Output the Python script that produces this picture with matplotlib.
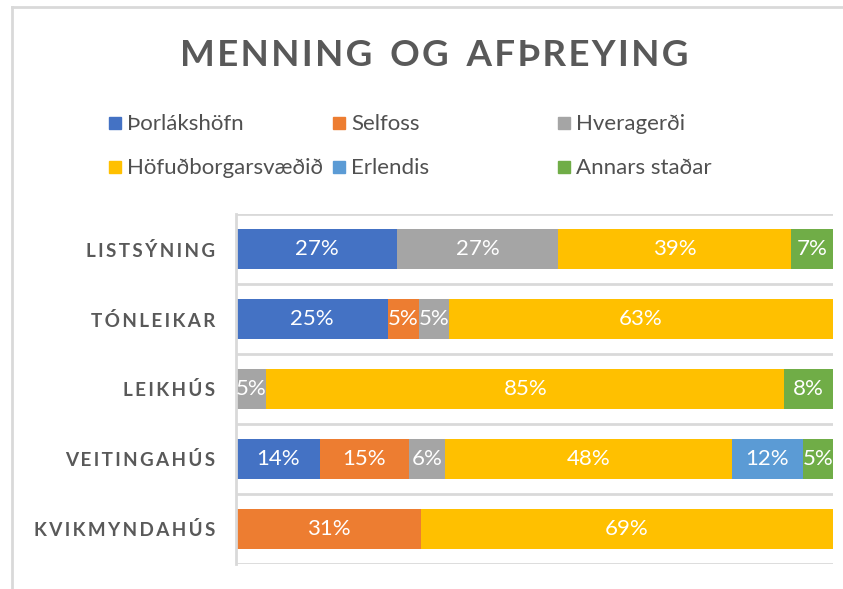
import matplotlib

matplotlib.use("Agg")
import matplotlib.pyplot as plt
import numpy as np
from matplotlib.lines import Line2D
from matplotlib.patches import Rectangle

plt.rcParams["font.family"] = ["Lato", "DejaVu Sans"]

# data (Excel 100% stacked bar, labels show the rounded shares)
categories = ["LISTSÝNING", "TÓNLEIKAR", "LEIKHÚS", "VEITINGAHÚS", "KVIKMYNDAHÚS"]
series_names = ["Þorlákshöfn", "Selfoss", "Hveragerði", "Höfuðborgarsvæðið", "Erlendis", "Annars staðar"]
thorlakshofn = [27, 25, 0, 14, 0]
selfoss = [0, 5, 0, 15, 31]
hveragerdi = [27, 5, 5, 6, 0]
hofudborgarsvaedid = [39, 63, 85, 48, 69]
erlendis = [0, 0, 0, 12, 0]
annars_stadar = [7, 0, 8, 5, 0]

colors = ["#4472C4", "#ED7D31", "#A5A5A5", "#FFC000", "#5B9BD5", "#70AD47"]
text_grey = "#595959"
line_grey = "#D9D9D9"

values = np.array([thorlakshofn, selfoss, hveragerdi, hofudborgarsvaedid, erlendis, annars_stadar], dtype=float)
shares = values / values.sum(axis=0) * 100

W, H = 843, 589
fig = plt.figure(figsize=(W / 100, H / 100), dpi=100)


def fx(px):
    return px / W


def fy(py):
    return 1 - py / H


# chart frame (only top and left edges are visible in the crop)
fig.add_artist(Line2D([fx(12), fx(12)], [fy(7), 0], color=line_grey, lw=2))
fig.add_artist(Line2D([fx(12), 1], [fy(7), fy(7)], color=line_grey, lw=2))

title = "  ".join("\u200a".join(w) for w in ["MENNING", "OG", "AFÞREYING"])
fig.text(fx(434), fy(56), title, ha="center", va="center", fontsize=26.5, fontweight="bold", color=text_grey)

# legend, laid out by hand like Excel does it
legend_pos = [(115, 122.5), (339, 122.5), (564, 122.5), (115, 166.5), (339, 166.5), (564, 166.5)]
for name, col, (lx, ly) in zip(series_names, colors, legend_pos):
    fig.add_artist(Rectangle((fx(lx - 6), fy(ly + 6)), 12 / W, 12 / H, color=col, transform=fig.transFigure))
    fig.text(fx(lx + 12), fy(ly + 1), name, ha="left", va="center", fontsize=16, color="#505050")

ax = fig.add_axes([fx(236), fy(564), fx(833) - fx(236), (564 - 214) / H])
y = np.arange(len(categories))
left = np.zeros(len(categories))
for i, col in enumerate(colors):
    ax.barh(y, shares[i], left=left, height=0.56, color=col, zorder=2)
    for j in range(len(categories)):
        if values[i, j] > 0:
            ax.text(left[j] + shares[i, j] / 2, y[j], f"{values[i, j]:.0f}%", ha="center", va="center",
                    color="white", fontsize=16, zorder=3)
    left += shares[i]

for b in np.arange(-0.5, len(categories), 1.0):
    ax.axhline(b, color=line_grey, lw=2, zorder=1)

ax.set_xlim(0, 100)
ax.set_ylim(len(categories) - 0.5, -0.5)
ax.set_xticks([])
ax.set_yticks(y)
ax.set_yticklabels(["\u2009".join(c) for c in categories], fontsize=13.6, fontweight="bold", color=text_grey)
ax.tick_params(axis="y", length=0, pad=15)
for s in ["top", "right", "bottom"]:
    ax.spines[s].set_visible(False)
ax.spines["left"].set_color(line_grey)
ax.spines["left"].set_linewidth(2)

fig.savefig("out.png", dpi=100)
